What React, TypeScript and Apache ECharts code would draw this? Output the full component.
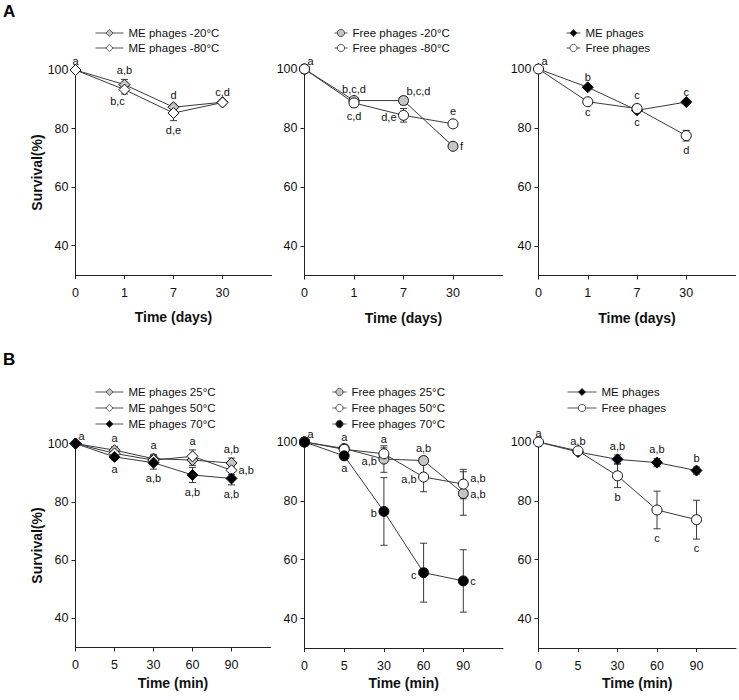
import React, { useEffect, useRef } from 'react';
import * as echarts from 'echarts';

// ---------- data ----------
const catsA = ['0', '1', '7', '30'];
const catsB = ['0', '5', '30', '60', '90'];
const yTicks = [40, 60, 80, 100];

// A1 storage, ME phages
const meM20 = [100, 95.0, 87.3, 89.0];
const meM20Err = [0, 1.8, 1.0, 0.4];
const meM80 = [100, 93.3, 85.3, 88.9];
const meM80Err = [0, 1.5, 2.6, 0.4];
// A2 storage, free phages
const freeM20 = [100, 89.3, 89.3, 73.8];
const freeM20Err = [0, 0.8, 0.6, 0.6];
const freeM80 = [100, 88.5, 84.3, 81.4];
const freeM80Err = [0, 1.4, 2.3, 1.2];
// A3 storage comparison
const meStore = [100, 93.8, 86.0, 88.8];
const meStoreErr = [0, 0.6, 0.8, 0.5];
const freeStore = [100, 88.9, 86.6, 77.4];
const freeStoreErr = [0, 0.5, 1.4, 1.8];
// B1 heat, ME phages
const me25 = [100, 97.7, 94.8, 94.3, 93.3];
const me25Err = [0, 1.2, 1.5, 1.8, 1.7];
const me50 = [100, 96.6, 94.3, 95.6, 90.8];
const me50Err = [0, 1.2, 1.5, 2.2, 1.5];
const me70 = [100, 95.4, 93.4, 89.2, 88.0];
const me70Err = [0, 1.0, 2.2, 2.6, 2.2];
// B2 heat, free phages
const free25 = [100, 97.8, 94.2, 93.7, 82.5];
const free25Err = [0, 1.0, 4.5, 1.2, 7.4];
const free50 = [100, 97.5, 96.0, 88.1, 85.7];
const free50Err = [0, 0.8, 2.0, 5.0, 5.0];
const free70 = [100, 95.3, 76.4, 55.6, 52.8];
const free70Err = [0, 1.0, 11.5, 10.0, 10.6];
// B3 heat comparison
const meHeat = [100, 96.6, 94.1, 93.0, 90.3];
const meHeatErr = [0, 0.8, 1.5, 1.4, 1.2];
const freeHeat = [100, 97.0, 88.5, 76.9, 73.6];
const freeHeatErr = [0, 0.5, 4.0, 6.4, 6.6];

// significance letters: [series in panel, point, text, placement]
const notesA1 = [[0, 0, 'a', 't'], [0, 1, 'a,b', 't'], [1, 1, 'b,c', 'bl'], [0, 2, 'd', 't'], [1, 2, 'd,e', 'b'], [0, 3, 'c,d', 't']];
const notesA2 = [[0, 0, 'a', 'tr'], [0, 1, 'b,c,d', 't'], [1, 1, 'c,d', 'b'], [0, 2, 'b,c,d', 'tr'], [1, 2, 'd,e', 'l'], [1, 3, 'e', 't'], [0, 3, 'f', 'r']];
const notesA3 = [[0, 0, 'a', 'tr'], [0, 1, 'b', 't'], [1, 1, 'c', 'b'], [1, 2, 'c', 't'], [0, 2, 'c', 'b'], [0, 3, 'c', 't'], [1, 3, 'd', 'b']];
const notesB1 = [[0, 0, 'a', 'tr'], [0, 1, 'a', 't'], [2, 1, 'a', 'b'], [0, 2, 'a', 't'], [2, 2, 'a,b', 'b'], [1, 3, 'a', 't'], [2, 3, 'a,b', 'b'], [0, 4, 'a,b', 't'], [1, 4, 'a,b', 'r'], [2, 4, 'a,b', 'b']];
const notesB2 = [[0, 0, 'a', 'tr'], [0, 1, 'a', 't'], [2, 1, 'a', 'b'], [1, 2, 'a', 't'], [0, 2, 'a,b', 'l'], [2, 2, 'b', 'l'], [0, 3, 'a,b', 't'], [1, 3, 'a,b', 'l'], [2, 3, 'c', 'l'], [1, 4, 'a,b', 'rt'], [0, 4, 'a,b', 'r'], [2, 4, 'c', 'r']];
const notesB3 = [[0, 0, 'a', 't'], [0, 1, 'a,b', 't'], [0, 2, 'a,b', 't'], [1, 2, 'b', 'b'], [0, 3, 'a,b', 't'], [1, 3, 'c', 'b'], [0, 4, 'b', 't'], [1, 4, 'c', 'b']];

// ---------- styles ----------
const FONT = '"Liberation Sans", Arial, Helvetica, sans-serif';
const GRAY = '#c4c4c4';
const WHITE = '#ffffff';
const BLACK = '#000000';
const LINE = '#3a3a3a';

type S = { name: string; values: number[]; err: number[]; symbol: string; fill: string };
type P = {
  grid: any; cats: string[]; series: S[]; notes: any[]; legend: any;
  yName?: string; xName: string; xGap: number;
};

const panels: P[] = [
  {
    grid: { left: 75.5, top: 70, width: 196, height: 205 }, cats: catsA, xName: 'Time (days)', xGap: 35, yName: 'Survival(%)',
    series: [
      { name: 'ME phages -20°C', values: meM20, err: meM20Err, symbol: 'diamond', fill: GRAY },
      { name: 'ME phages -80°C', values: meM80, err: meM80Err, symbol: 'diamond', fill: WHITE },
    ],
    notes: notesA1, legend: { left: 95, top: 27, itemWidth: 28, gap: 2 },
  },
  {
    grid: { left: 304.5, top: 69, width: 198, height: 206.5 }, cats: catsA, xName: 'Time (days)', xGap: 35,
    series: [
      { name: 'Free phages -20°C', values: freeM20, err: freeM20Err, symbol: 'circle', fill: GRAY },
      { name: 'Free phages -80°C', values: freeM80, err: freeM80Err, symbol: 'circle', fill: WHITE },
    ],
    notes: notesA2, legend: { left: 334, top: 27, itemWidth: 13, gap: 2 },
  },
  {
    grid: { left: 538.5, top: 69, width: 197, height: 206.5 }, cats: catsA, xName: 'Time (days)', xGap: 35,
    series: [
      { name: 'ME phages', values: meStore, err: meStoreErr, symbol: 'diamond', fill: BLACK },
      { name: 'Free phages', values: freeStore, err: freeStoreErr, symbol: 'circle', fill: WHITE },
    ],
    notes: notesA3, legend: { left: 566, top: 27, itemWidth: 14, gap: 2 },
  },
  {
    grid: { left: 75.5, top: 443.5, width: 195, height: 204 }, cats: catsB, xName: 'Time (min)', xGap: 28, yName: 'Survival(%)',
    series: [
      { name: 'ME phages 25°C', values: me25, err: me25Err, symbol: 'diamond', fill: GRAY },
      { name: 'ME pahges 50°C', values: me50, err: me50Err, symbol: 'diamond', fill: WHITE },
      { name: 'ME phages 70°C', values: me70, err: me70Err, symbol: 'diamond', fill: BLACK },
    ],
    notes: notesB1, legend: { left: 95, top: 386, itemWidth: 28, gap: 3 },
  },
  {
    grid: { left: 304.5, top: 442, width: 198.5, height: 206 }, cats: catsB, xName: 'Time (min)', xGap: 28,
    series: [
      { name: 'Free phages 25°C', values: free25, err: free25Err, symbol: 'circle', fill: GRAY },
      { name: 'Free phages 50°C', values: free50, err: free50Err, symbol: 'circle', fill: WHITE },
      { name: 'Free phages 70°C', values: free70, err: free70Err, symbol: 'circle', fill: BLACK },
    ],
    notes: notesB2, legend: { left: 332, top: 386, itemWidth: 14, gap: 3 },
  },
  {
    grid: { left: 538.5, top: 442, width: 197.5, height: 206 }, cats: catsB, xName: 'Time (min)', xGap: 28,
    series: [
      { name: 'ME phages', values: meHeat, err: meHeatErr, symbol: 'diamond', fill: BLACK },
      { name: 'Free phages', values: freeHeat, err: freeHeatErr, symbol: 'circle', fill: WHITE },
    ],
    notes: notesB3, legend: { left: 567, top: 386, itemWidth: 29, gap: 3 },
  },
];

function place(p: string, x: number, y: number) {
  switch (p) {
    case 't': return { x, y: y - 9, align: 'center' };
    case 'b': return { x, y: y + 9, align: 'center' };
    case 'bl': return { x: x - 7, y: y + 7, align: 'center' };
    case 'tr': return { x: x + 3, y: y - 8, align: 'left' };
    case 'l': return { x: x - 7, y: y + 2, align: 'right' };
    case 'r': return { x: x + 7, y, align: 'left' };
    case 'rt': return { x: x + 7, y: y - 6, align: 'left' };
    default: return { x, y, align: 'center' };
  }
}

function buildOption() {
  const grid: any[] = [];
  const xAxis: any[] = [];
  const yAxis: any[] = [];
  const legend: any[] = [];
  const series: any[] = [];

  panels.forEach((pn, gi) => {
    grid.push({ ...pn.grid, containLabel: false });
    const idx = pn.cats.map((_, k) => k);
    xAxis.push({
      type: 'value', gridIndex: gi, min: 0, max: pn.cats.length,
      axisLine: { show: true, onZero: false, lineStyle: { color: '#222', width: 1 } },
      axisTick: { show: true, inside: false, length: 4, customValues: idx, lineStyle: { color: '#222' } },
      axisLabel: {
        customValues: idx, formatter: (v: number) => pn.cats[Math.round(v)] ?? '',
        margin: 11, fontSize: 12.5, color: '#111', fontFamily: FONT,
      },
      splitLine: { show: false },
      name: pn.xName, nameLocation: 'middle', nameGap: pn.xGap,
      nameTextStyle: { fontSize: 14, fontWeight: 'bold', color: '#111', fontFamily: FONT },
    });
    yAxis.push({
      type: 'value', gridIndex: gi, min: 30, max: 100,
      axisLine: { show: true, lineStyle: { color: '#222', width: 1 } },
      axisTick: { show: true, inside: false, length: 4, customValues: yTicks, lineStyle: { color: '#222' } },
      axisLabel: { customValues: yTicks, margin: 7, fontSize: 12.5, color: '#111', fontFamily: FONT },
      splitLine: { show: false },
      name: pn.yName || '', nameLocation: 'middle', nameGap: 31, nameRotate: 90,
      nameTextStyle: { fontSize: 14, fontWeight: 'bold', color: '#111', fontFamily: FONT },
    });
    legend.push({
      orient: 'vertical', left: pn.legend.left, top: pn.legend.top,
      itemWidth: pn.legend.itemWidth, itemHeight: 9, itemGap: pn.legend.gap + 1,
      selectedMode: false, padding: 0,
      itemStyle: { borderWidth: 0.8, borderColor: '#333' },
      lineStyle: { width: 1, color: '#555' },
      data: pn.series.map((s) => s.name),
      textStyle: { fontSize: 11.5, lineHeight: 12, color: '#111', fontFamily: FONT, padding: [0, 0, 0, 0] },
    });

    pn.series.forEach((s) => {
      // error bars
      const errData = s.values.map((v, k) => [k, v, s.err[k]]).filter((d) => d[2] > 0);
      series.push({
        type: 'custom', xAxisIndex: gi, yAxisIndex: gi, z: 1, silent: true,
        encode: { x: 0, y: 1 },
        data: errData,
        renderItem: (params: any, api: any) => {
          const x = api.value(0), v = api.value(1), e = api.value(2);
          const t = api.coord([x, v + e]);
          const b = api.coord([x, v - e]);
          const st = { stroke: LINE, lineWidth: 1 };
          const c = 3.5;
          return {
            type: 'group', children: [
              { type: 'line', shape: { x1: t[0], y1: t[1], x2: b[0], y2: b[1] }, style: st },
              { type: 'line', shape: { x1: t[0] - c, y1: t[1], x2: t[0] + c, y2: t[1] }, style: st },
              { type: 'line', shape: { x1: b[0] - c, y1: b[1], x2: b[0] + c, y2: b[1] }, style: st },
            ],
          };
        },
      });
      series.push({
        type: 'line', name: s.name, xAxisIndex: gi, yAxisIndex: gi, z: 2,
        data: s.values.map((v, k) => [k, v]),
        symbol: s.symbol, symbolSize: s.symbol === 'diamond' ? [11, 11] : 10,
        showAllSymbol: true, clip: false, silent: true,
        lineStyle: { color: LINE, width: 1 },
        itemStyle: { color: s.fill, borderColor: '#111', borderWidth: 1 },
        emphasis: { disabled: true },
      });
    });

    // letters
    const notes = pn.notes;
    const noteData = notes.map((n) => {
      const s = pn.series[n[0]];
      const v = s.values[n[1]], e = s.err[n[1]];
      const a = n[3] === 't' || n[3] === 'tr' ? v + e : n[3] === 'b' || n[3] === 'bl' ? v - e : v;
      return [n[1], a];
    });
    series.push({
      type: 'custom', xAxisIndex: gi, yAxisIndex: gi, z: 5, silent: true,
      encode: { x: 0, y: 1 },
      data: noteData,
      renderItem: (params: any, api: any) => {
        const n = notes[params.dataIndex];
        const c = api.coord([api.value(0), api.value(1)]);
        const p = place(n[3], c[0], c[1]);
        return {
          type: 'text',
          style: {
            text: n[2], x: p.x, y: p.y, align: p.align, verticalAlign: 'middle',
            fill: '#111', font: `11px ${FONT}`,
          },
        };
      },
    });
  });

  return {
    animation: false,
    backgroundColor: '#ffffff',
    textStyle: { fontFamily: FONT },
    grid, xAxis, yAxis, legend, series,
    graphic: [
      { type: 'text', left: 3, top: 3, style: { text: 'A', font: `bold 17px ${FONT}`, fill: '#000' } },
      { type: 'text', left: 3, top: 351, style: { text: 'B', font: `bold 17px ${FONT}`, fill: '#000' } },
    ],
  };
}

export default function App() {
  const ref = useRef<HTMLDivElement>(null);
  useEffect(() => {
    const chart = echarts.init(ref.current!, null, { renderer: 'svg' });
    chart.setOption(buildOption() as any);
    return () => chart.dispose();
  }, []);
  return (
    <div
      ref={ref}
      style={{ position: 'fixed', left: 0, top: 0, width: 739, height: 700, background: '#fff' }}
    />
  );
}
